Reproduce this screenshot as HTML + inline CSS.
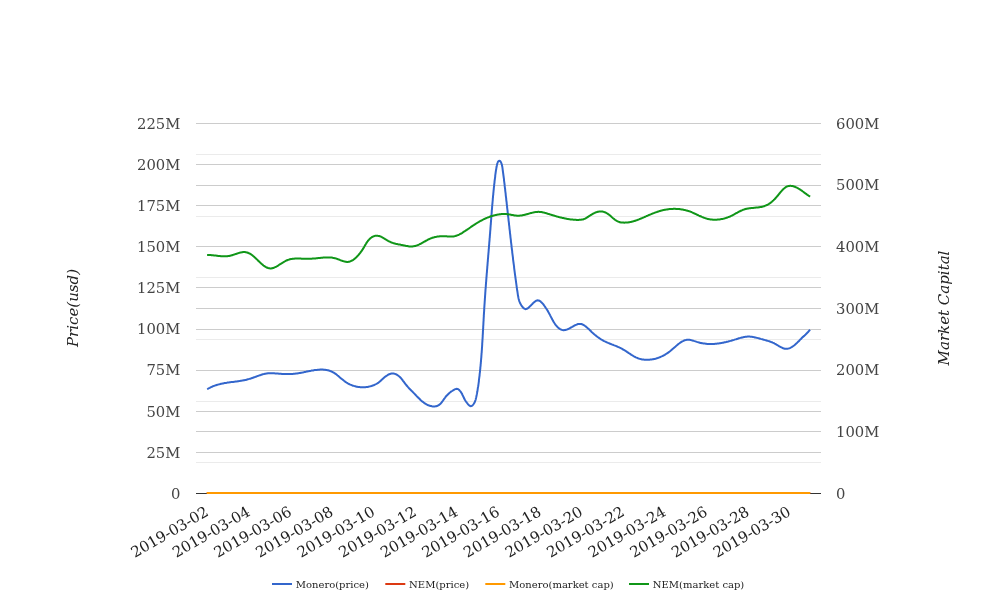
<!DOCTYPE html>
<html><head><meta charset="utf-8"><title>chart</title>
<style>
html,body{margin:0;padding:0;background:#fff}
svg{display:block}
text{font-family:'DejaVu Serif', 'Liberation Serif', serif}
</style></head><body>
<svg width="1008" height="616" viewBox="0 0 1008 616">
<rect x="0" y="0" width="1008" height="616" fill="#ffffff"/>
<g><rect x="196" y="462" width="625" height="1" fill="#ebebeb"/>
<rect x="196" y="401" width="625" height="1" fill="#ebebeb"/>
<rect x="196" y="339" width="625" height="1" fill="#ebebeb"/>
<rect x="196" y="277" width="625" height="1" fill="#ebebeb"/>
<rect x="196" y="216" width="625" height="1" fill="#ebebeb"/>
<rect x="196" y="154" width="625" height="1" fill="#ebebeb"/>
<rect x="196" y="123" width="625" height="1" fill="#cccccc"/>
<rect x="196" y="164" width="625" height="1" fill="#cccccc"/>
<rect x="196" y="185" width="625" height="1" fill="#cccccc"/>
<rect x="196" y="205" width="625" height="1" fill="#cccccc"/>
<rect x="196" y="246" width="625" height="1" fill="#cccccc"/>
<rect x="196" y="287" width="625" height="1" fill="#cccccc"/>
<rect x="196" y="308" width="625" height="1" fill="#cccccc"/>
<rect x="196" y="329" width="625" height="1" fill="#cccccc"/>
<rect x="196" y="370" width="625" height="1" fill="#cccccc"/>
<rect x="196" y="411" width="625" height="1" fill="#cccccc"/>
<rect x="196" y="431" width="625" height="1" fill="#cccccc"/>
<rect x="196" y="452" width="625" height="1" fill="#cccccc"/>
<rect x="196" y="493" width="625" height="1" fill="#333333"/></g>
<path d="M207.1,389.2L207.8,388.9L208.4,388.5L209.1,388.1L209.8,387.8L210.5,387.4L211.1,387.1L211.8,386.8L212.5,386.5L213.2,386.2L213.9,385.9L214.6,385.7L215.3,385.4L216.0,385.2L216.7,385.0L217.4,384.8L218.1,384.6L218.8,384.4L219.5,384.2L220.3,384.0L221.0,383.8L221.7,383.7L222.4,383.5L223.1,383.4L223.9,383.2L224.6,383.1L225.3,383.0L226.0,382.9L226.8,382.8L227.5,382.6L228.2,382.5L229.0,382.4L229.7,382.3L230.4,382.2L231.2,382.1L231.9,382.0L232.6,381.9L233.4,381.9L234.1,381.8L234.8,381.7L235.6,381.6L236.3,381.5L237.0,381.4L237.8,381.3L238.5,381.2L239.2,381.1L240.0,380.9L240.7,380.8L241.4,380.7L242.2,380.6L242.9,380.5L243.6,380.3L244.3,380.2L245.1,380.0L245.8,379.9L246.5,379.7L247.2,379.5L247.9,379.3L248.7,379.1L249.4,378.9L250.1,378.7L250.8,378.5L251.5,378.2L252.2,378.0L252.9,377.8L253.6,377.5L254.3,377.2L255.0,377.0L255.7,376.7L256.5,376.5L257.2,376.2L257.9,375.9L258.6,375.7L259.3,375.4L260.0,375.2L260.7,375.0L261.4,374.7L262.1,374.5L262.8,374.3L263.5,374.1L264.2,373.9L264.9,373.8L265.6,373.7L266.3,373.5L267.1,373.4L267.8,373.3L268.5,373.3L269.2,373.2L270.0,373.2L270.7,373.2L271.4,373.2L272.2,373.2L272.9,373.2L273.6,373.3L274.4,373.3L275.1,373.4L275.9,373.4L276.6,373.5L277.3,373.5L278.1,373.6L278.8,373.7L279.6,373.7L280.3,373.8L281.1,373.8L281.8,373.9L282.6,373.9L283.3,374.0L284.0,374.0L284.8,374.0L285.5,374.0L286.3,374.0L287.0,374.0L287.8,374.1L288.5,374.0L289.2,374.0L290.0,374.0L290.7,374.0L291.5,374.0L292.2,373.9L292.9,373.9L293.7,373.8L294.4,373.7L295.1,373.7L295.8,373.6L296.6,373.5L297.3,373.4L298.0,373.3L298.7,373.2L299.4,373.1L300.2,373.0L300.9,372.8L301.6,372.7L302.3,372.6L303.0,372.4L303.7,372.3L304.4,372.1L305.1,372.0L305.9,371.8L306.6,371.6L307.3,371.5L308.0,371.3L308.8,371.2L309.5,371.0L310.2,370.9L310.9,370.8L311.7,370.6L312.4,370.5L313.2,370.4L313.9,370.2L314.7,370.1L315.5,370.0L316.2,369.9L317.0,369.9L317.7,369.8L318.5,369.7L319.3,369.7L320.0,369.6L320.8,369.6L321.5,369.6L322.3,369.6L323.0,369.6L323.8,369.7L324.5,369.8L325.3,369.8L326.0,369.9L326.7,370.0L327.4,370.2L328.1,370.3L328.8,370.5L329.5,370.7L330.2,371.0L330.9,371.2L331.5,371.5L332.2,371.8L332.8,372.2L333.4,372.5L334.1,372.9L334.7,373.3L335.3,373.7L335.9,374.1L336.5,374.6L337.0,375.0L337.6,375.5L338.2,375.9L338.8,376.4L339.4,376.9L339.9,377.4L340.5,377.9L341.1,378.4L341.7,378.9L342.2,379.3L342.8,379.8L343.4,380.3L344.0,380.8L344.6,381.2L345.2,381.7L345.8,382.1L346.4,382.5L347.1,382.9L347.7,383.3L348.4,383.6L349.0,384.0L349.7,384.3L350.3,384.6L351.0,384.9L351.7,385.2L352.4,385.5L353.1,385.7L353.8,385.9L354.5,386.1L355.2,386.3L355.9,386.5L356.6,386.7L357.3,386.8L358.0,386.9L358.8,387.0L359.5,387.1L360.3,387.2L361.0,387.3L361.7,387.3L362.5,387.3L363.2,387.3L364.0,387.3L364.7,387.2L365.5,387.2L366.2,387.1L367.0,387.0L367.7,386.9L368.5,386.7L369.2,386.6L369.9,386.4L370.6,386.2L371.4,386.0L372.1,385.8L372.8,385.5L373.5,385.3L374.2,385.0L374.8,384.7L375.5,384.4L376.2,384.0L376.8,383.6L377.4,383.3L378.1,382.9L378.7,382.4L379.2,382.0L379.8,381.5L380.4,381.1L380.9,380.6L381.5,380.1L382.0,379.6L382.6,379.1L383.1,378.6L383.7,378.1L384.2,377.6L384.8,377.1L385.4,376.6L386.0,376.2L386.6,375.7L387.3,375.3L387.9,374.9L388.6,374.5L389.3,374.2L390.0,374.0L390.7,373.8L391.4,373.6L392.2,373.5L392.9,373.5L393.6,373.6L394.3,373.7L395.0,373.9L395.7,374.2L396.4,374.5L397.1,374.9L397.7,375.3L398.4,375.8L399.0,376.2L399.6,376.7L400.1,377.3L400.6,377.8L401.2,378.4L401.6,379.0L402.1,379.6L402.6,380.2L403.0,380.8L403.5,381.4L403.9,382.0L404.4,382.6L404.8,383.2L405.3,383.8L405.7,384.3L406.2,384.9L406.6,385.5L407.1,386.0L407.6,386.6L408.1,387.1L408.5,387.6L409.0,388.2L409.5,388.7L410.0,389.2L410.5,389.7L411.0,390.3L411.5,390.8L412.1,391.3L412.6,391.8L413.1,392.4L413.6,392.9L414.1,393.4L414.6,393.9L415.2,394.5L415.7,395.0L416.2,395.6L416.7,396.1L417.3,396.7L417.8,397.2L418.3,397.7L418.9,398.3L419.4,398.8L419.9,399.3L420.5,399.9L421.1,400.4L421.6,400.9L422.2,401.4L422.8,401.8L423.4,402.3L423.9,402.7L424.5,403.2L425.2,403.6L425.8,404.0L426.4,404.3L427.1,404.7L427.7,405.0L428.4,405.3L429.1,405.5L429.8,405.8L430.5,406.0L431.2,406.1L431.9,406.3L432.7,406.4L433.4,406.4L434.1,406.4L434.8,406.4L435.6,406.3L436.3,406.2L436.9,406.0L437.6,405.8L438.2,405.5L438.8,405.1L439.4,404.7L439.9,404.3L440.5,403.8L441.0,403.2L441.5,402.6L442.0,402.0L442.4,401.4L442.9,400.8L443.3,400.1L443.8,399.5L444.2,398.8L444.7,398.2L445.2,397.5L445.6,396.9L446.1,396.3L446.6,395.8L447.1,395.2L447.6,394.7L448.1,394.2L448.6,393.7L449.1,393.2L449.7,392.7L450.3,392.3L450.8,391.8L451.4,391.4L452.1,391.0L452.7,390.6L453.4,390.2L454.0,389.8L454.7,389.4L455.4,389.1L456.1,388.9L456.8,388.8L457.4,388.9L458.1,389.2L458.6,389.5L459.2,390.0L459.7,390.6L460.2,391.1L460.7,391.7L461.1,392.4L461.5,393.0L461.8,393.6L462.2,394.3L462.5,395.0L462.9,395.7L463.2,396.3L463.5,397.0L463.8,397.7L464.1,398.4L464.5,399.0L464.8,399.7L465.2,400.3L465.6,401.0L466.0,401.6L466.5,402.2L466.9,402.8L467.4,403.5L467.9,404.1L468.5,404.7L469.0,405.3L469.6,405.7L470.2,406.1L470.7,406.2L471.3,406.1L471.9,405.9L472.4,405.4L473.0,404.9L473.5,404.3L473.9,403.6L474.3,402.9L474.7,402.2L475.0,401.5L475.2,400.8L475.5,400.1L475.7,399.4L475.9,398.6L476.1,397.9L476.2,397.2L476.4,396.5L476.5,395.7L476.7,395.0L476.8,394.3L477.0,393.5L477.1,392.8L477.2,392.1L477.4,391.3L477.5,390.6L477.6,389.9L477.7,389.1L477.8,388.4L477.9,387.7L478.0,387.0L478.2,386.2L478.3,385.5L478.4,384.8L478.5,384.0L478.6,383.3L478.7,382.6L478.8,381.8L478.9,381.1L478.9,380.4L479.0,379.6L479.1,378.9L479.2,378.2L479.3,377.4L479.4,376.7L479.5,376.0L479.6,375.2L479.6,374.5L479.7,373.8L479.8,373.0L479.9,372.3L480.0,371.6L480.0,370.8L480.1,370.1L480.2,369.3L480.3,368.6L480.3,367.9L480.4,367.1L480.5,366.4L480.6,365.7L480.6,364.9L480.7,364.2L480.8,363.5L480.8,362.7L480.9,362.0L481.0,361.2L481.0,360.5L481.1,359.8L481.1,359.0L481.2,358.3L481.3,357.5L481.3,356.8L481.4,356.1L481.4,355.3L481.5,354.6L481.5,353.9L481.6,353.1L481.7,352.4L481.7,351.6L481.8,350.9L481.8,350.2L481.9,349.4L481.9,348.7L482.0,347.9L482.0,347.2L482.1,346.5L482.1,345.7L482.2,345.0L482.2,344.2L482.2,343.5L482.3,342.8L482.3,342.0L482.4,341.3L482.4,340.5L482.5,339.8L482.5,339.1L482.6,338.3L482.6,337.6L482.7,336.8L482.7,336.1L482.7,335.3L482.8,334.6L482.8,333.9L482.9,333.1L482.9,332.4L482.9,331.6L483.0,330.9L483.0,330.2L483.1,329.4L483.1,328.7L483.2,327.9L483.2,327.2L483.2,326.5L483.3,325.7L483.3,325.0L483.4,324.2L483.4,323.5L483.4,322.8L483.5,322.0L483.5,321.3L483.6,320.5L483.6,319.8L483.6,319.0L483.7,318.3L483.7,317.6L483.8,316.8L483.8,316.1L483.8,315.3L483.9,314.6L483.9,313.9L484.0,313.1L484.0,312.4L484.1,311.6L484.1,310.9L484.2,310.2L484.2,309.4L484.2,308.7L484.3,307.9L484.3,307.2L484.4,306.5L484.4,305.7L484.5,305.0L484.5,304.2L484.6,303.5L484.6,302.8L484.7,302.0L484.7,301.3L484.8,300.5L484.8,299.8L484.9,299.1L484.9,298.3L485.0,297.6L485.0,296.9L485.1,296.1L485.1,295.4L485.2,294.6L485.2,293.9L485.3,293.2L485.3,292.4L485.4,291.7L485.4,290.9L485.5,290.2L485.5,289.5L485.6,288.7L485.7,288.0L485.7,287.3L485.8,286.5L485.8,285.8L485.9,285.0L485.9,284.3L486.0,283.6L486.0,282.8L486.1,282.1L486.2,281.3L486.2,280.6L486.3,279.9L486.3,279.1L486.4,278.4L486.4,277.7L486.5,276.9L486.6,276.2L486.6,275.4L486.7,274.7L486.7,274.0L486.8,273.2L486.9,272.5L486.9,271.8L487.0,271.0L487.0,270.3L487.1,269.5L487.2,268.8L487.2,268.1L487.3,267.3L487.3,266.6L487.4,265.9L487.5,265.1L487.5,264.4L487.6,263.6L487.6,262.9L487.7,262.2L487.8,261.4L487.8,260.7L487.9,260.0L487.9,259.2L488.0,258.5L488.1,257.7L488.1,257.0L488.2,256.3L488.2,255.5L488.3,254.8L488.4,254.0L488.4,253.3L488.5,252.6L488.6,251.8L488.6,251.1L488.7,250.4L488.7,249.6L488.8,248.9L488.9,248.1L488.9,247.4L489.0,246.7L489.0,245.9L489.1,245.2L489.2,244.4L489.2,243.7L489.3,243.0L489.3,242.2L489.4,241.5L489.5,240.8L489.5,240.0L489.6,239.3L489.6,238.5L489.7,237.8L489.8,237.1L489.8,236.3L489.9,235.6L489.9,234.8L490.0,234.1L490.1,233.4L490.1,232.6L490.2,231.9L490.2,231.1L490.3,230.4L490.4,229.7L490.4,228.9L490.5,228.2L490.5,227.4L490.6,226.7L490.6,226.0L490.7,225.2L490.8,224.5L490.8,223.7L490.9,223.0L490.9,222.2L491.0,221.5L491.0,220.8L491.1,220.0L491.2,219.3L491.2,218.5L491.3,217.8L491.3,217.1L491.4,216.3L491.4,215.6L491.5,214.8L491.6,214.1L491.6,213.4L491.7,212.6L491.7,211.9L491.8,211.1L491.8,210.4L491.9,209.7L492.0,208.9L492.0,208.2L492.1,207.4L492.1,206.7L492.2,206.0L492.3,205.2L492.3,204.5L492.4,203.7L492.5,203.0L492.5,202.3L492.6,201.5L492.7,200.8L492.7,200.0L492.8,199.3L492.8,198.6L492.9,197.8L493.0,197.1L493.0,196.4L493.1,195.6L493.2,194.9L493.3,194.1L493.3,193.4L493.4,192.7L493.5,191.9L493.5,191.2L493.6,190.5L493.7,189.7L493.8,189.0L493.8,188.3L493.9,187.5L494.0,186.8L494.1,186.1L494.1,185.3L494.2,184.6L494.3,183.9L494.4,183.1L494.5,182.4L494.5,181.7L494.6,181.0L494.7,180.2L494.8,179.5L494.9,178.8L495.0,178.0L495.1,177.3L495.2,176.6L495.2,175.9L495.3,175.1L495.4,174.4L495.5,173.7L495.6,173.0L495.7,172.2L495.8,171.5L495.9,170.8L496.0,170.0L496.2,169.3L496.3,168.5L496.4,167.8L496.6,167.0L496.7,166.2L496.9,165.4L497.0,164.6L497.2,163.8L497.5,163.0L497.7,162.3L498.1,161.7L498.5,161.2L498.9,160.9L499.4,160.8L499.8,160.9L500.3,161.3L500.7,161.8L501.0,162.4L501.3,163.1L501.6,163.8L501.8,164.5L502.0,165.2L502.1,166.0L502.3,166.7L502.4,167.5L502.5,168.2L502.6,169.0L502.7,169.8L502.8,170.5L502.9,171.3L503.0,172.0L503.1,172.8L503.2,173.5L503.3,174.3L503.4,175.0L503.5,175.8L503.6,176.5L503.7,177.3L503.8,178.0L503.9,178.7L504.0,179.5L504.0,180.2L504.1,181.0L504.2,181.7L504.3,182.4L504.4,183.2L504.5,183.9L504.6,184.6L504.6,185.4L504.7,186.1L504.8,186.8L504.9,187.6L505.0,188.3L505.1,189.0L505.2,189.8L505.2,190.5L505.3,191.2L505.4,192.0L505.5,192.7L505.6,193.4L505.7,194.2L505.7,194.9L505.8,195.6L505.9,196.4L506.0,197.1L506.1,197.8L506.2,198.6L506.2,199.3L506.3,200.0L506.4,200.8L506.5,201.5L506.6,202.2L506.7,203.0L506.7,203.7L506.8,204.4L506.9,205.2L507.0,205.9L507.1,206.6L507.1,207.4L507.2,208.1L507.3,208.8L507.4,209.6L507.5,210.3L507.6,211.0L507.6,211.8L507.7,212.5L507.8,213.2L507.9,214.0L508.0,214.7L508.0,215.4L508.1,216.2L508.2,216.9L508.3,217.6L508.4,218.4L508.5,219.1L508.5,219.8L508.6,220.6L508.7,221.3L508.8,222.0L508.9,222.8L509.0,223.5L509.0,224.3L509.1,225.0L509.2,225.7L509.3,226.5L509.4,227.2L509.4,227.9L509.5,228.7L509.6,229.4L509.7,230.1L509.8,230.9L509.9,231.6L509.9,232.3L510.0,233.1L510.1,233.8L510.2,234.5L510.3,235.3L510.4,236.0L510.4,236.7L510.5,237.5L510.6,238.2L510.7,239.0L510.8,239.7L510.9,240.4L510.9,241.2L511.0,241.9L511.1,242.6L511.2,243.4L511.3,244.1L511.4,244.8L511.5,245.6L511.5,246.3L511.6,247.0L511.7,247.8L511.8,248.5L511.9,249.3L512.0,250.0L512.1,250.7L512.2,251.5L512.2,252.2L512.3,252.9L512.4,253.7L512.5,254.4L512.6,255.1L512.7,255.9L512.8,256.6L512.9,257.4L513.0,258.1L513.0,258.8L513.1,259.6L513.2,260.3L513.3,261.0L513.4,261.8L513.5,262.5L513.6,263.3L513.7,264.0L513.8,264.7L513.9,265.5L514.0,266.2L514.1,266.9L514.1,267.7L514.2,268.4L514.3,269.2L514.4,269.9L514.5,270.6L514.6,271.4L514.7,272.1L514.8,272.9L514.9,273.6L515.0,274.3L515.1,275.1L515.2,275.8L515.3,276.5L515.4,277.3L515.5,278.0L515.6,278.8L515.7,279.5L515.8,280.2L515.9,281.0L516.0,281.7L516.1,282.5L516.2,283.2L516.3,283.9L516.4,284.7L516.5,285.4L516.6,286.2L516.7,286.9L516.8,287.6L516.9,288.4L517.0,289.1L517.1,289.9L517.2,290.6L517.4,291.4L517.5,292.1L517.6,292.8L517.7,293.6L517.8,294.3L517.9,295.1L518.0,295.8L518.2,296.5L518.3,297.2L518.5,298.0L518.6,298.7L518.8,299.4L519.0,300.1L519.2,300.8L519.5,301.5L519.7,302.1L520.0,302.8L520.3,303.5L520.6,304.1L521.0,304.7L521.3,305.3L521.7,305.9L522.2,306.5L522.7,307.1L523.2,307.7L523.7,308.2L524.3,308.6L524.9,308.9L525.5,309.1L526.1,309.0L526.7,308.8L527.4,308.5L528.0,308.1L528.7,307.6L529.3,307.0L529.9,306.4L530.5,305.8L531.1,305.2L531.7,304.6L532.3,304.0L532.9,303.3L533.5,302.8L534.1,302.2L534.7,301.7L535.3,301.3L535.9,300.9L536.4,300.6L537.0,300.4L537.6,300.3L538.2,300.4L538.8,300.5L539.3,300.7L539.9,301.0L540.5,301.4L541.0,301.9L541.6,302.4L542.1,303.0L542.7,303.6L543.2,304.2L543.7,304.9L544.2,305.6L544.7,306.2L545.1,306.9L545.6,307.5L546.0,308.2L546.4,308.8L546.8,309.4L547.2,310.0L547.6,310.6L547.9,311.3L548.3,311.9L548.6,312.5L549.0,313.1L549.3,313.7L549.6,314.3L550.0,314.9L550.3,315.6L550.6,316.2L550.9,316.8L551.3,317.5L551.6,318.1L551.9,318.8L552.3,319.5L552.7,320.1L553.0,320.8L553.4,321.5L553.8,322.1L554.2,322.8L554.7,323.5L555.1,324.1L555.6,324.8L556.1,325.4L556.6,326.0L557.2,326.6L557.7,327.2L558.3,327.7L558.9,328.2L559.5,328.7L560.1,329.1L560.8,329.4L561.4,329.7L562.0,329.9L562.7,330.1L563.4,330.2L564.0,330.2L564.7,330.1L565.4,330.0L566.1,329.8L566.8,329.6L567.5,329.3L568.2,329.0L568.9,328.7L569.6,328.3L570.3,327.9L571.0,327.5L571.8,327.1L572.5,326.7L573.2,326.3L573.9,325.9L574.6,325.5L575.3,325.2L576.0,324.9L576.7,324.6L577.4,324.3L578.0,324.1L578.7,324.0L579.4,323.9L580.1,323.9L580.7,324.0L581.4,324.1L582.0,324.3L582.6,324.5L583.3,324.8L583.9,325.2L584.5,325.5L585.1,326.0L585.7,326.4L586.3,326.9L586.9,327.4L587.5,328.0L588.1,328.5L588.7,329.1L589.3,329.6L589.9,330.2L590.5,330.8L591.0,331.3L591.6,331.9L592.2,332.4L592.8,333.0L593.4,333.5L593.9,334.0L594.5,334.5L595.1,335.0L595.7,335.4L596.3,335.9L596.9,336.4L597.4,336.8L598.0,337.3L598.6,337.7L599.2,338.1L599.8,338.5L600.4,338.9L601.0,339.3L601.7,339.7L602.3,340.0L602.9,340.4L603.5,340.8L604.2,341.1L604.8,341.4L605.5,341.7L606.1,342.0L606.8,342.3L607.5,342.6L608.1,342.9L608.8,343.2L609.5,343.5L610.2,343.8L610.9,344.0L611.6,344.3L612.3,344.6L612.9,344.8L613.6,345.1L614.3,345.4L615.0,345.6L615.7,345.9L616.4,346.2L617.1,346.5L617.8,346.8L618.5,347.1L619.2,347.4L619.8,347.7L620.5,348.0L621.2,348.4L621.8,348.7L622.5,349.1L623.1,349.5L623.8,349.8L624.4,350.2L625.1,350.6L625.7,351.0L626.3,351.4L627.0,351.9L627.6,352.3L628.2,352.7L628.8,353.1L629.5,353.5L630.1,353.9L630.7,354.3L631.3,354.8L632.0,355.1L632.6,355.5L633.2,355.9L633.9,356.3L634.5,356.6L635.2,357.0L635.8,357.3L636.5,357.6L637.2,357.9L637.8,358.2L638.5,358.4L639.2,358.7L639.9,358.9L640.6,359.1L641.3,359.2L642.1,359.4L642.8,359.5L643.5,359.6L644.3,359.7L645.0,359.7L645.7,359.8L646.5,359.8L647.2,359.8L648.0,359.8L648.8,359.8L649.5,359.7L650.3,359.6L651.0,359.5L651.8,359.4L652.5,359.3L653.2,359.2L654.0,359.0L654.7,358.9L655.4,358.7L656.2,358.5L656.9,358.3L657.6,358.1L658.3,357.8L658.9,357.6L659.6,357.3L660.3,357.0L661.0,356.7L661.6,356.4L662.3,356.1L662.9,355.8L663.5,355.5L664.2,355.1L664.8,354.8L665.4,354.4L666.0,354.0L666.7,353.6L667.3,353.2L667.9,352.8L668.5,352.4L669.1,351.9L669.7,351.5L670.3,351.0L670.8,350.5L671.4,350.1L672.0,349.6L672.6,349.1L673.2,348.6L673.8,348.0L674.4,347.5L675.0,347.0L675.6,346.5L676.2,345.9L676.7,345.4L677.3,344.9L677.9,344.4L678.5,343.9L679.1,343.5L679.8,343.0L680.4,342.6L681.0,342.2L681.6,341.8L682.2,341.4L682.9,341.1L683.5,340.8L684.1,340.5L684.8,340.3L685.5,340.1L686.1,339.9L686.8,339.8L687.5,339.7L688.2,339.7L688.9,339.7L689.6,339.8L690.3,339.9L691.0,340.1L691.7,340.3L692.5,340.5L693.2,340.7L693.9,340.9L694.7,341.1L695.4,341.4L696.1,341.6L696.9,341.9L697.6,342.1L698.3,342.3L699.1,342.5L699.8,342.7L700.5,342.9L701.2,343.0L702.0,343.2L702.7,343.3L703.4,343.4L704.1,343.5L704.9,343.6L705.6,343.7L706.3,343.8L707.0,343.9L707.8,343.9L708.5,343.9L709.2,344.0L710.0,344.0L710.7,344.0L711.4,344.0L712.2,344.0L712.9,343.9L713.6,343.9L714.4,343.9L715.1,343.8L715.8,343.7L716.6,343.7L717.3,343.6L718.0,343.5L718.8,343.4L719.5,343.3L720.2,343.2L721.0,343.1L721.7,342.9L722.4,342.8L723.2,342.7L723.9,342.5L724.6,342.3L725.3,342.2L726.1,342.0L726.8,341.8L727.5,341.7L728.3,341.5L729.0,341.3L729.7,341.1L730.4,340.9L731.2,340.7L731.9,340.5L732.6,340.3L733.3,340.1L734.0,339.9L734.7,339.6L735.4,339.4L736.2,339.2L736.9,339.0L737.6,338.8L738.3,338.5L739.0,338.3L739.7,338.1L740.4,337.9L741.1,337.7L741.8,337.5L742.5,337.4L743.2,337.2L744.0,337.1L744.7,336.9L745.4,336.8L746.1,336.7L746.8,336.7L747.6,336.6L748.3,336.6L749.0,336.6L749.7,336.6L750.5,336.7L751.2,336.7L752.0,336.8L752.7,336.9L753.5,337.1L754.2,337.2L754.9,337.4L755.7,337.5L756.4,337.7L757.2,337.9L757.9,338.1L758.7,338.3L759.4,338.5L760.1,338.7L760.8,338.9L761.6,339.1L762.3,339.3L763.0,339.5L763.7,339.7L764.4,339.9L765.1,340.1L765.8,340.3L766.5,340.5L767.2,340.7L767.9,340.9L768.6,341.1L769.3,341.3L769.9,341.6L770.6,341.8L771.3,342.1L772.0,342.3L772.6,342.6L773.3,342.9L774.0,343.2L774.6,343.6L775.3,343.9L776.0,344.3L776.6,344.7L777.3,345.1L778.0,345.5L778.6,345.9L779.3,346.3L780.0,346.7L780.6,347.0L781.3,347.4L782.0,347.7L782.6,348.0L783.3,348.3L784.0,348.5L784.7,348.7L785.4,348.8L786.1,348.8L786.8,348.8L787.5,348.8L788.2,348.6L788.9,348.4L789.6,348.2L790.3,347.9L791.0,347.5L791.7,347.1L792.3,346.7L793.0,346.2L793.7,345.7L794.4,345.2L795.0,344.7L795.7,344.1L796.3,343.5L796.9,343.0L797.5,342.4L798.1,341.8L798.7,341.2L799.2,340.7L799.7,340.1L800.2,339.6L800.7,339.1L801.2,338.7L801.6,338.2L802.0,337.8L802.3,337.5L802.7,337.1L803.0,336.9L803.3,336.6L803.6,336.4L803.9,336.1L804.2,335.9L804.5,335.6L804.9,335.2L805.4,334.8L805.9,334.2L806.6,333.6L807.3,332.8L808.1,332.0L809.0,330.9L810.1,329.7" fill="none" stroke="#3366cc" stroke-width="2"/>
<path d="M206.78,493.0L810.22,493.0" fill="none" stroke="#dc3912" stroke-width="2"/>
<path d="M206.78,493.0L810.22,493.0" fill="none" stroke="#ff9900" stroke-width="2"/>
<path d="M207.1,255.1L207.6,255.1L208.1,255.1L208.6,255.1L209.0,255.1L209.5,255.1L210.0,255.1L210.5,255.1L211.0,255.1L211.4,255.2L211.9,255.2L212.4,255.2L212.9,255.3L213.3,255.3L213.8,255.4L214.3,255.4L214.7,255.5L215.2,255.5L215.7,255.6L216.1,255.6L216.6,255.7L217.0,255.8L217.5,255.8L217.9,255.9L218.4,255.9L218.9,256.0L219.3,256.0L219.8,256.1L220.2,256.1L220.7,256.2L221.1,256.2L221.6,256.2L222.0,256.3L222.5,256.3L222.9,256.3L223.4,256.3L223.8,256.3L224.3,256.3L224.8,256.3L225.2,256.3L225.7,256.3L226.1,256.3L226.6,256.3L227.0,256.2L227.5,256.2L228.0,256.1L228.4,256.1L228.9,256.0L229.4,255.9L229.8,255.8L230.3,255.7L230.8,255.6L231.2,255.4L231.7,255.3L232.2,255.2L232.7,255.0L233.1,254.9L233.6,254.7L234.1,254.6L234.6,254.4L235.0,254.2L235.5,254.1L236.0,253.9L236.5,253.8L236.9,253.6L237.4,253.4L237.9,253.3L238.4,253.1L238.8,253.0L239.3,252.9L239.8,252.7L240.2,252.6L240.7,252.5L241.1,252.4L241.6,252.3L242.0,252.2L242.5,252.2L242.9,252.1L243.4,252.1L243.8,252.1L244.2,252.1L244.7,252.1L245.1,252.1L245.5,252.2L245.9,252.2L246.3,252.3L246.8,252.4L247.2,252.5L247.6,252.7L248.0,252.8L248.4,253.0L248.8,253.1L249.1,253.3L249.5,253.5L249.9,253.7L250.3,254.0L250.7,254.2L251.1,254.4L251.4,254.7L251.8,255.0L252.2,255.2L252.6,255.5L252.9,255.8L253.3,256.1L253.7,256.4L254.0,256.7L254.4,257.1L254.8,257.4L255.1,257.7L255.5,258.1L255.8,258.4L256.2,258.7L256.6,259.1L256.9,259.4L257.3,259.8L257.7,260.1L258.0,260.5L258.4,260.9L258.8,261.2L259.1,261.6L259.5,261.9L259.9,262.3L260.2,262.6L260.6,263.0L261.0,263.3L261.4,263.7L261.7,264.0L262.1,264.3L262.5,264.6L262.9,265.0L263.2,265.3L263.6,265.6L264.0,265.8L264.4,266.1L264.8,266.4L265.2,266.6L265.6,266.9L266.0,267.1L266.4,267.3L266.8,267.5L267.2,267.7L267.6,267.8L268.0,268.0L268.4,268.1L268.8,268.2L269.2,268.3L269.6,268.3L270.0,268.4L270.4,268.4L270.8,268.4L271.3,268.4L271.7,268.3L272.1,268.2L272.5,268.2L272.9,268.0L273.4,267.9L273.8,267.8L274.2,267.6L274.6,267.4L275.1,267.2L275.5,267.0L275.9,266.8L276.4,266.6L276.8,266.3L277.2,266.1L277.7,265.8L278.1,265.6L278.5,265.3L278.9,265.0L279.4,264.7L279.8,264.5L280.2,264.2L280.7,263.9L281.1,263.6L281.5,263.4L281.9,263.1L282.4,262.8L282.8,262.5L283.2,262.3L283.6,262.0L284.0,261.8L284.4,261.6L284.8,261.3L285.3,261.1L285.7,260.9L286.1,260.7L286.5,260.5L286.9,260.3L287.3,260.2L287.7,260.0L288.1,259.9L288.6,259.7L289.0,259.6L289.4,259.5L289.8,259.3L290.3,259.2L290.7,259.1L291.1,259.1L291.6,259.0L292.0,258.9L292.5,258.8L292.9,258.8L293.4,258.7L293.8,258.7L294.3,258.7L294.8,258.6L295.2,258.6L295.7,258.6L296.2,258.6L296.6,258.6L297.1,258.6L297.6,258.6L298.1,258.6L298.5,258.6L299.0,258.6L299.5,258.6L300.0,258.6L300.5,258.6L300.9,258.6L301.4,258.7L301.9,258.7L302.4,258.7L302.9,258.7L303.4,258.7L303.8,258.7L304.3,258.8L304.8,258.8L305.3,258.8L305.8,258.8L306.2,258.8L306.7,258.8L307.2,258.8L307.7,258.8L308.2,258.8L308.6,258.8L309.1,258.8L309.6,258.8L310.1,258.8L310.5,258.7L311.0,258.7L311.5,258.7L311.9,258.7L312.4,258.6L312.9,258.6L313.3,258.6L313.8,258.5L314.3,258.5L314.7,258.4L315.2,258.4L315.7,258.4L316.1,258.3L316.6,258.3L317.0,258.2L317.5,258.2L318.0,258.1L318.4,258.1L318.9,258.0L319.4,258.0L319.8,257.9L320.3,257.9L320.8,257.8L321.2,257.8L321.7,257.8L322.1,257.7L322.6,257.7L323.1,257.6L323.5,257.6L324.0,257.6L324.5,257.5L324.9,257.5L325.4,257.5L325.8,257.4L326.3,257.4L326.8,257.4L327.2,257.4L327.7,257.4L328.2,257.4L328.6,257.4L329.1,257.4L329.6,257.4L330.0,257.5L330.5,257.5L331.0,257.5L331.4,257.6L331.9,257.6L332.4,257.7L332.8,257.8L333.3,257.9L333.8,258.0L334.2,258.1L334.7,258.2L335.2,258.3L335.6,258.4L336.1,258.6L336.6,258.7L337.0,258.9L337.5,259.0L338.0,259.2L338.4,259.4L338.9,259.6L339.4,259.7L339.8,259.9L340.3,260.1L340.8,260.3L341.2,260.5L341.7,260.6L342.1,260.8L342.6,260.9L343.1,261.1L343.5,261.2L344.0,261.4L344.4,261.5L344.9,261.6L345.3,261.7L345.8,261.8L346.2,261.8L346.7,261.9L347.1,261.9L347.5,261.9L348.0,261.9L348.4,261.8L348.8,261.8L349.3,261.7L349.7,261.6L350.1,261.4L350.5,261.3L350.9,261.1L351.3,260.9L351.7,260.7L352.1,260.5L352.5,260.3L352.9,260.0L353.3,259.8L353.7,259.5L354.1,259.2L354.5,258.9L354.8,258.6L355.2,258.3L355.6,258.0L355.9,257.6L356.3,257.3L356.6,257.0L357.0,256.6L357.3,256.3L357.6,255.9L358.0,255.5L358.3,255.2L358.6,254.8L358.9,254.5L359.2,254.1L359.5,253.7L359.8,253.4L360.1,253.0L360.4,252.7L360.6,252.3L360.9,251.9L361.2,251.5L361.5,251.2L361.7,250.8L362.0,250.4L362.2,250.0L362.5,249.7L362.7,249.3L363.0,248.9L363.2,248.5L363.5,248.1L363.7,247.7L364.0,247.3L364.2,246.8L364.4,246.4L364.7,246.0L364.9,245.6L365.2,245.2L365.4,244.8L365.7,244.3L365.9,243.9L366.2,243.5L366.4,243.1L366.7,242.7L366.9,242.3L367.2,241.9L367.5,241.5L367.8,241.1L368.0,240.7L368.3,240.4L368.6,240.0L369.0,239.7L369.3,239.3L369.6,239.0L369.9,238.7L370.3,238.3L370.6,238.1L371.0,237.8L371.4,237.5L371.7,237.2L372.1,237.0L372.6,236.8L373.0,236.6L373.4,236.4L373.9,236.2L374.3,236.1L374.8,235.9L375.2,235.8L375.7,235.8L376.1,235.7L376.6,235.7L377.0,235.7L377.5,235.7L377.9,235.8L378.4,235.9L378.8,236.0L379.3,236.1L379.7,236.2L380.1,236.4L380.6,236.5L381.0,236.7L381.4,236.9L381.9,237.1L382.3,237.4L382.7,237.6L383.1,237.8L383.6,238.1L384.0,238.3L384.4,238.6L384.8,238.9L385.2,239.1L385.6,239.4L386.1,239.6L386.5,239.9L386.9,240.1L387.3,240.4L387.7,240.6L388.1,240.9L388.5,241.1L389.0,241.3L389.4,241.5L389.8,241.7L390.2,241.9L390.6,242.1L391.0,242.3L391.5,242.5L391.9,242.6L392.3,242.8L392.7,242.9L393.2,243.1L393.6,243.2L394.0,243.3L394.5,243.5L394.9,243.6L395.4,243.7L395.8,243.8L396.3,243.9L396.7,244.0L397.2,244.1L397.7,244.2L398.1,244.3L398.6,244.4L399.0,244.5L399.5,244.5L400.0,244.6L400.5,244.7L400.9,244.8L401.4,244.9L401.9,245.0L402.3,245.1L402.8,245.2L403.3,245.3L403.8,245.4L404.2,245.5L404.7,245.6L405.2,245.7L405.7,245.8L406.1,245.9L406.6,246.0L407.1,246.1L407.5,246.1L408.0,246.2L408.5,246.3L409.0,246.4L409.4,246.4L409.9,246.4L410.4,246.5L410.8,246.5L411.3,246.5L411.7,246.5L412.2,246.4L412.7,246.4L413.1,246.3L413.6,246.3L414.0,246.2L414.5,246.1L414.9,246.0L415.4,245.9L415.8,245.8L416.2,245.6L416.7,245.5L417.1,245.3L417.6,245.1L418.0,245.0L418.4,244.8L418.9,244.6L419.3,244.4L419.7,244.2L420.1,244.0L420.6,243.8L421.0,243.6L421.4,243.4L421.8,243.1L422.2,242.9L422.7,242.7L423.1,242.4L423.5,242.2L423.9,242.0L424.3,241.7L424.7,241.5L425.1,241.3L425.5,241.0L426.0,240.8L426.4,240.5L426.8,240.3L427.2,240.1L427.6,239.9L428.0,239.6L428.4,239.4L428.8,239.2L429.3,239.0L429.7,238.8L430.1,238.6L430.5,238.5L431.0,238.3L431.4,238.1L431.8,238.0L432.3,237.8L432.7,237.7L433.2,237.5L433.6,237.4L434.1,237.3L434.5,237.2L435.0,237.0L435.4,236.9L435.9,236.9L436.4,236.8L436.8,236.7L437.3,236.6L437.8,236.5L438.2,236.5L438.7,236.4L439.2,236.4L439.6,236.3L440.1,236.3L440.6,236.2L441.1,236.2L441.5,236.2L442.0,236.2L442.5,236.2L443.0,236.2L443.4,236.2L443.9,236.2L444.4,236.2L444.9,236.2L445.3,236.2L445.8,236.3L446.3,236.3L446.8,236.3L447.2,236.4L447.7,236.4L448.2,236.4L448.7,236.5L449.1,236.5L449.6,236.5L450.1,236.5L450.5,236.6L451.0,236.6L451.5,236.6L451.9,236.5L452.4,236.5L452.8,236.5L453.3,236.4L453.7,236.4L454.2,236.3L454.7,236.2L455.1,236.1L455.5,236.0L456.0,235.8L456.4,235.7L456.9,235.5L457.3,235.4L457.8,235.2L458.2,235.0L458.6,234.8L459.1,234.6L459.5,234.4L459.9,234.2L460.3,234.0L460.7,233.7L461.2,233.5L461.6,233.3L462.0,233.0L462.4,232.8L462.8,232.5L463.2,232.2L463.6,232.0L464.0,231.7L464.4,231.5L464.8,231.2L465.2,230.9L465.6,230.7L466.0,230.4L466.4,230.1L466.8,229.9L467.2,229.6L467.6,229.3L467.9,229.1L468.3,228.8L468.7,228.5L469.1,228.3L469.5,228.0L469.9,227.7L470.2,227.5L470.6,227.2L471.0,226.9L471.4,226.7L471.8,226.4L472.1,226.2L472.5,225.9L472.9,225.6L473.3,225.4L473.7,225.1L474.1,224.9L474.5,224.6L474.9,224.3L475.2,224.1L475.6,223.8L476.0,223.6L476.4,223.3L476.8,223.1L477.2,222.8L477.6,222.6L478.0,222.4L478.5,222.1L478.9,221.9L479.3,221.6L479.7,221.4L480.1,221.2L480.5,221.0L480.9,220.7L481.4,220.5L481.8,220.3L482.2,220.1L482.6,219.8L483.0,219.6L483.5,219.4L483.9,219.2L484.3,219.0L484.8,218.8L485.2,218.6L485.6,218.4L486.0,218.2L486.5,218.0L486.9,217.9L487.4,217.7L487.8,217.5L488.2,217.3L488.7,217.1L489.1,217.0L489.6,216.8L490.0,216.7L490.4,216.5L490.9,216.3L491.3,216.2L491.8,216.1L492.2,215.9L492.7,215.8L493.1,215.7L493.6,215.5L494.0,215.4L494.5,215.3L494.9,215.2L495.4,215.1L495.8,215.0L496.3,214.9L496.7,214.8L497.2,214.7L497.7,214.6L498.1,214.5L498.6,214.5L499.0,214.4L499.5,214.3L499.9,214.3L500.4,214.2L500.9,214.2L501.3,214.1L501.8,214.1L502.2,214.1L502.7,214.1L503.2,214.1L503.6,214.0L504.1,214.0L504.6,214.0L505.0,214.1L505.5,214.1L506.0,214.1L506.4,214.1L506.9,214.2L507.4,214.2L507.8,214.2L508.3,214.3L508.8,214.4L509.2,214.4L509.7,214.5L510.2,214.6L510.6,214.7L511.1,214.8L511.6,214.9L512.0,214.9L512.5,215.0L513.0,215.1L513.4,215.2L513.9,215.3L514.4,215.4L514.8,215.5L515.3,215.5L515.8,215.6L516.2,215.6L516.7,215.7L517.2,215.7L517.7,215.7L518.1,215.7L518.6,215.7L519.1,215.7L519.5,215.7L520.0,215.6L520.5,215.6L520.9,215.5L521.4,215.5L521.9,215.4L522.3,215.3L522.8,215.2L523.2,215.1L523.7,215.0L524.2,214.9L524.6,214.8L525.1,214.7L525.6,214.5L526.0,214.4L526.5,214.3L527.0,214.2L527.4,214.0L527.9,213.9L528.4,213.8L528.8,213.6L529.3,213.5L529.7,213.4L530.2,213.2L530.7,213.1L531.1,213.0L531.6,212.9L532.0,212.8L532.5,212.6L533.0,212.5L533.4,212.4L533.9,212.3L534.3,212.2L534.8,212.2L535.3,212.1L535.7,212.0L536.2,212.0L536.6,211.9L537.1,211.9L537.6,211.9L538.0,211.8L538.5,211.8L538.9,211.8L539.4,211.9L539.8,211.9L540.3,211.9L540.8,212.0L541.2,212.1L541.7,212.1L542.1,212.2L542.6,212.3L543.0,212.4L543.5,212.5L543.9,212.6L544.4,212.7L544.9,212.9L545.3,213.0L545.8,213.1L546.2,213.2L546.7,213.4L547.1,213.5L547.6,213.7L548.0,213.8L548.5,213.9L548.9,214.1L549.4,214.2L549.8,214.4L550.3,214.5L550.8,214.6L551.2,214.8L551.7,214.9L552.1,215.1L552.6,215.2L553.0,215.3L553.5,215.5L553.9,215.6L554.4,215.7L554.8,215.9L555.3,216.0L555.7,216.1L556.2,216.3L556.7,216.4L557.1,216.5L557.6,216.6L558.0,216.8L558.5,216.9L558.9,217.0L559.4,217.1L559.8,217.3L560.3,217.4L560.7,217.5L561.2,217.6L561.7,217.7L562.1,217.8L562.6,217.9L563.0,218.0L563.5,218.1L563.9,218.2L564.4,218.3L564.9,218.4L565.3,218.5L565.8,218.6L566.2,218.7L566.7,218.8L567.2,218.9L567.6,219.0L568.1,219.0L568.5,219.1L569.0,219.2L569.5,219.3L569.9,219.3L570.4,219.4L570.9,219.4L571.3,219.5L571.8,219.5L572.3,219.6L572.7,219.6L573.2,219.7L573.7,219.7L574.1,219.8L574.6,219.8L575.1,219.8L575.5,219.8L576.0,219.8L576.5,219.9L576.9,219.9L577.4,219.9L577.9,219.9L578.4,219.9L578.8,219.9L579.3,219.8L579.8,219.8L580.3,219.8L580.7,219.8L581.2,219.7L581.7,219.6L582.1,219.6L582.6,219.5L583.0,219.4L583.5,219.3L583.9,219.1L584.3,218.9L584.7,218.8L585.2,218.6L585.6,218.4L586.0,218.1L586.4,217.9L586.8,217.7L587.2,217.4L587.6,217.2L588.0,216.9L588.3,216.6L588.7,216.4L589.1,216.1L589.5,215.8L589.9,215.6L590.3,215.3L590.8,215.0L591.2,214.8L591.6,214.5L592.0,214.3L592.4,214.0L592.9,213.8L593.3,213.6L593.7,213.4L594.1,213.1L594.6,212.9L595.0,212.7L595.5,212.6L595.9,212.4L596.3,212.2L596.8,212.1L597.2,212.0L597.7,211.8L598.1,211.7L598.6,211.7L599.0,211.6L599.5,211.5L599.9,211.5L600.4,211.5L600.9,211.5L601.3,211.5L601.8,211.5L602.2,211.6L602.7,211.6L603.1,211.7L603.6,211.9L604.1,212.0L604.5,212.1L604.9,212.3L605.4,212.5L605.8,212.7L606.2,212.9L606.6,213.1L607.1,213.3L607.5,213.6L607.8,213.9L608.2,214.1L608.6,214.4L609.0,214.7L609.4,215.0L609.8,215.3L610.1,215.6L610.5,215.9L610.9,216.3L611.2,216.6L611.6,216.9L611.9,217.2L612.3,217.5L612.7,217.9L613.0,218.2L613.4,218.5L613.8,218.8L614.1,219.1L614.5,219.4L614.9,219.7L615.3,220.0L615.6,220.2L616.0,220.5L616.4,220.7L616.8,221.0L617.2,221.2L617.7,221.4L618.1,221.6L618.5,221.7L618.9,221.9L619.4,222.0L619.8,222.2L620.3,222.3L620.7,222.4L621.2,222.4L621.7,222.5L622.1,222.5L622.6,222.6L623.1,222.6L623.6,222.6L624.0,222.7L624.5,222.7L625.0,222.6L625.4,222.6L625.9,222.6L626.4,222.6L626.8,222.5L627.3,222.5L627.8,222.5L628.2,222.4L628.7,222.3L629.1,222.3L629.6,222.2L630.1,222.1L630.5,222.0L631.0,221.9L631.4,221.8L631.9,221.7L632.3,221.6L632.8,221.5L633.2,221.4L633.7,221.2L634.1,221.1L634.6,221.0L635.0,220.8L635.4,220.7L635.9,220.5L636.3,220.4L636.8,220.2L637.2,220.1L637.6,219.9L638.1,219.7L638.5,219.6L639.0,219.4L639.4,219.2L639.8,219.0L640.3,218.9L640.7,218.7L641.1,218.5L641.6,218.3L642.0,218.1L642.5,217.9L642.9,217.7L643.3,217.6L643.8,217.4L644.2,217.2L644.6,217.0L645.1,216.8L645.5,216.6L645.9,216.4L646.4,216.2L646.8,216.0L647.2,215.8L647.7,215.6L648.1,215.4L648.5,215.2L649.0,215.1L649.4,214.9L649.9,214.7L650.3,214.5L650.7,214.3L651.2,214.1L651.6,213.9L652.0,213.8L652.5,213.6L652.9,213.4L653.4,213.2L653.8,213.1L654.3,212.9L654.7,212.7L655.1,212.6L655.6,212.4L656.0,212.3L656.5,212.1L656.9,212.0L657.4,211.8L657.8,211.7L658.3,211.5L658.7,211.4L659.2,211.2L659.6,211.1L660.1,211.0L660.5,210.8L661.0,210.7L661.4,210.6L661.9,210.5L662.3,210.4L662.8,210.2L663.2,210.1L663.7,210.0L664.1,209.9L664.6,209.8L665.1,209.7L665.5,209.7L666.0,209.6L666.4,209.5L666.9,209.4L667.4,209.4L667.8,209.3L668.3,209.2L668.8,209.2L669.2,209.1L669.7,209.1L670.2,209.0L670.6,209.0L671.1,209.0L671.6,208.9L672.0,208.9L672.5,208.9L673.0,208.9L673.4,208.8L673.9,208.8L674.4,208.8L674.8,208.8L675.3,208.8L675.8,208.9L676.2,208.9L676.7,208.9L677.2,208.9L677.6,208.9L678.1,209.0L678.6,209.0L679.0,209.1L679.5,209.1L680.0,209.2L680.4,209.2L680.9,209.3L681.4,209.4L681.8,209.4L682.3,209.5L682.8,209.6L683.2,209.7L683.7,209.8L684.1,209.9L684.6,210.0L685.0,210.1L685.5,210.2L685.9,210.3L686.4,210.4L686.9,210.5L687.3,210.7L687.7,210.8L688.2,210.9L688.6,211.1L689.1,211.2L689.5,211.4L690.0,211.5L690.4,211.7L690.8,211.9L691.3,212.0L691.7,212.2L692.1,212.4L692.6,212.6L693.0,212.8L693.4,213.0L693.9,213.2L694.3,213.4L694.7,213.6L695.1,213.8L695.6,214.0L696.0,214.2L696.4,214.4L696.8,214.6L697.2,214.8L697.7,215.0L698.1,215.2L698.5,215.4L698.9,215.6L699.4,215.8L699.8,216.0L700.2,216.2L700.6,216.3L701.1,216.5L701.5,216.7L701.9,216.9L702.4,217.1L702.8,217.3L703.2,217.4L703.6,217.6L704.1,217.8L704.5,217.9L705.0,218.1L705.4,218.2L705.8,218.4L706.3,218.5L706.7,218.6L707.2,218.8L707.6,218.9L708.1,219.0L708.5,219.1L709.0,219.2L709.4,219.3L709.9,219.3L710.4,219.4L710.8,219.5L711.3,219.5L711.8,219.6L712.2,219.6L712.7,219.7L713.2,219.7L713.7,219.7L714.1,219.7L714.6,219.7L715.1,219.7L715.6,219.7L716.0,219.7L716.5,219.7L717.0,219.7L717.5,219.6L717.9,219.6L718.4,219.6L718.9,219.5L719.4,219.4L719.8,219.4L720.3,219.3L720.8,219.2L721.3,219.1L721.7,219.1L722.2,219.0L722.7,218.9L723.1,218.8L723.6,218.6L724.1,218.5L724.5,218.4L725.0,218.3L725.5,218.1L725.9,218.0L726.4,217.9L726.8,217.7L727.3,217.5L727.7,217.4L728.2,217.2L728.6,217.0L729.1,216.9L729.5,216.7L730.0,216.5L730.4,216.3L730.8,216.1L731.2,215.9L731.7,215.7L732.1,215.5L732.5,215.3L732.9,215.0L733.3,214.8L733.7,214.6L734.2,214.4L734.6,214.1L735.0,213.9L735.4,213.7L735.8,213.5L736.2,213.2L736.6,213.0L737.0,212.8L737.4,212.6L737.8,212.3L738.2,212.1L738.6,211.9L739.0,211.7L739.4,211.5L739.9,211.3L740.3,211.0L740.7,210.8L741.1,210.7L741.5,210.5L741.9,210.3L742.4,210.1L742.8,209.9L743.2,209.8L743.6,209.6L744.1,209.5L744.5,209.3L745.0,209.2L745.4,209.1L745.9,209.0L746.3,208.8L746.8,208.7L747.2,208.7L747.7,208.6L748.2,208.5L748.6,208.4L749.1,208.3L749.6,208.3L750.1,208.2L750.5,208.2L751.0,208.1L751.5,208.0L752.0,208.0L752.5,208.0L752.9,207.9L753.4,207.9L753.9,207.8L754.4,207.8L754.9,207.7L755.3,207.7L755.8,207.6L756.3,207.6L756.8,207.6L757.3,207.5L757.7,207.5L758.2,207.4L758.7,207.3L759.2,207.3L759.6,207.2L760.1,207.1L760.5,207.1L761.0,207.0L761.5,206.9L761.9,206.8L762.4,206.7L762.8,206.6L763.2,206.4L763.7,206.3L764.1,206.2L764.5,206.0L765.0,205.9L765.4,205.7L765.8,205.5L766.2,205.4L766.6,205.2L767.0,205.0L767.4,204.8L767.8,204.6L768.2,204.3L768.6,204.1L768.9,203.9L769.3,203.6L769.7,203.4L770.1,203.1L770.4,202.9L770.8,202.6L771.2,202.3L771.5,202.0L771.9,201.7L772.2,201.4L772.6,201.1L772.9,200.8L773.3,200.5L773.6,200.2L773.9,199.8L774.3,199.5L774.6,199.2L775.0,198.8L775.3,198.5L775.6,198.1L775.9,197.7L776.3,197.4L776.6,197.0L776.9,196.6L777.2,196.3L777.5,195.9L777.9,195.5L778.2,195.1L778.5,194.7L778.8,194.3L779.1,193.9L779.5,193.5L779.8,193.1L780.1,192.7L780.4,192.3L780.7,192.0L781.0,191.6L781.4,191.2L781.7,190.8L782.0,190.5L782.3,190.1L782.7,189.8L783.0,189.4L783.4,189.1L783.7,188.8L784.0,188.5L784.4,188.2L784.7,187.9L785.1,187.6L785.5,187.4L785.8,187.1L786.2,186.9L786.6,186.7L787.0,186.5L787.4,186.4L787.8,186.2L788.2,186.1L788.6,186.0L789.0,185.9L789.4,185.9L789.9,185.8L790.3,185.8L790.7,185.8L791.2,185.9L791.7,185.9L792.1,186.0L792.6,186.1L793.1,186.2L793.5,186.3L794.0,186.5L794.5,186.7L795.0,186.8L795.4,187.0L795.9,187.2L796.3,187.4L796.8,187.6L797.3,187.9L797.7,188.1L798.1,188.3L798.6,188.6L799.0,188.8L799.4,189.1L799.8,189.3L800.2,189.6L800.6,189.9L801.0,190.1L801.4,190.4L801.7,190.7L802.1,190.9L802.5,191.2L802.9,191.5L803.2,191.7L803.6,192.0L803.9,192.3L804.3,192.6L804.7,192.9L805.0,193.1L805.4,193.4L805.8,193.7L806.1,194.0L806.5,194.2L806.9,194.5L807.3,194.8L807.7,195.0L808.1,195.3L808.5,195.6L808.9,195.8L809.3,196.1L809.7,196.3L810.1,196.6" fill="none" stroke="#109618" stroke-width="2"/>
<text x="180.3" y="499" text-anchor="end" font-size="14.75" fill="#444444">0</text>
<text x="180.3" y="458" text-anchor="end" font-size="14.75" fill="#444444">25M</text>
<text x="180.3" y="417" text-anchor="end" font-size="14.75" fill="#444444">50M</text>
<text x="180.3" y="375" text-anchor="end" font-size="14.75" fill="#444444">75M</text>
<text x="180.3" y="334" text-anchor="end" font-size="14.75" fill="#444444">100M</text>
<text x="180.3" y="293" text-anchor="end" font-size="14.75" fill="#444444">125M</text>
<text x="180.3" y="252" text-anchor="end" font-size="14.75" fill="#444444">150M</text>
<text x="180.3" y="211" text-anchor="end" font-size="14.75" fill="#444444">175M</text>
<text x="180.3" y="170" text-anchor="end" font-size="14.75" fill="#444444">200M</text>
<text x="180.3" y="129" text-anchor="end" font-size="14.75" fill="#444444">225M</text>
<text x="836" y="499" text-anchor="start" font-size="14.75" fill="#444444">0</text>
<text x="836" y="437" text-anchor="start" font-size="14.75" fill="#444444">100M</text>
<text x="836" y="375" text-anchor="start" font-size="14.75" fill="#444444">200M</text>
<text x="836" y="314" text-anchor="start" font-size="14.75" fill="#444444">300M</text>
<text x="836" y="252" text-anchor="start" font-size="14.75" fill="#444444">400M</text>
<text x="836" y="190" text-anchor="start" font-size="14.75" fill="#444444">500M</text>
<text x="836" y="129" text-anchor="start" font-size="14.75" fill="#444444">600M</text>
<text transform="translate(209.58,514.80) rotate(-30)" text-anchor="end" font-size="15" fill="#222222">2019-03-02</text>
<text transform="translate(251.16,514.80) rotate(-30)" text-anchor="end" font-size="15" fill="#222222">2019-03-04</text>
<text transform="translate(292.75,514.80) rotate(-30)" text-anchor="end" font-size="15" fill="#222222">2019-03-06</text>
<text transform="translate(334.33,514.80) rotate(-30)" text-anchor="end" font-size="15" fill="#222222">2019-03-08</text>
<text transform="translate(375.92,514.80) rotate(-30)" text-anchor="end" font-size="15" fill="#222222">2019-03-10</text>
<text transform="translate(417.51,514.80) rotate(-30)" text-anchor="end" font-size="15" fill="#222222">2019-03-12</text>
<text transform="translate(459.09,514.80) rotate(-30)" text-anchor="end" font-size="15" fill="#222222">2019-03-14</text>
<text transform="translate(500.68,514.80) rotate(-30)" text-anchor="end" font-size="15" fill="#222222">2019-03-16</text>
<text transform="translate(542.26,514.80) rotate(-30)" text-anchor="end" font-size="15" fill="#222222">2019-03-18</text>
<text transform="translate(583.85,514.80) rotate(-30)" text-anchor="end" font-size="15" fill="#222222">2019-03-20</text>
<text transform="translate(625.44,514.80) rotate(-30)" text-anchor="end" font-size="15" fill="#222222">2019-03-22</text>
<text transform="translate(667.02,514.80) rotate(-30)" text-anchor="end" font-size="15" fill="#222222">2019-03-24</text>
<text transform="translate(708.61,514.80) rotate(-30)" text-anchor="end" font-size="15" fill="#222222">2019-03-26</text>
<text transform="translate(750.19,514.80) rotate(-30)" text-anchor="end" font-size="15" fill="#222222">2019-03-28</text>
<text transform="translate(791.78,514.80) rotate(-30)" text-anchor="end" font-size="15" fill="#222222">2019-03-30</text>
<text transform="translate(78,308) rotate(-90)" text-anchor="middle" font-size="15" font-style="italic" fill="#222222">Price(usd)</text>
<text transform="translate(949,308) rotate(-90)" text-anchor="middle" font-size="15" font-style="italic" fill="#222222">Market Capital</text>
<rect x="272" y="583" width="20" height="2" fill="#3366cc"/>
<text x="295.8" y="587.5" font-size="10" fill="#222222">Monero(price)</text>
<rect x="385.3" y="583" width="20" height="2" fill="#dc3912"/>
<text x="409.1" y="587.5" font-size="10" fill="#222222">NEM(price)</text>
<rect x="485.3" y="583" width="20" height="2" fill="#ff9900"/>
<text x="509.1" y="587.5" font-size="10" fill="#222222">Monero(market cap)</text>
<rect x="629" y="583" width="20" height="2" fill="#109618"/>
<text x="652.8" y="587.5" font-size="10" fill="#222222">NEM(market cap)</text>
</svg></body></html>
